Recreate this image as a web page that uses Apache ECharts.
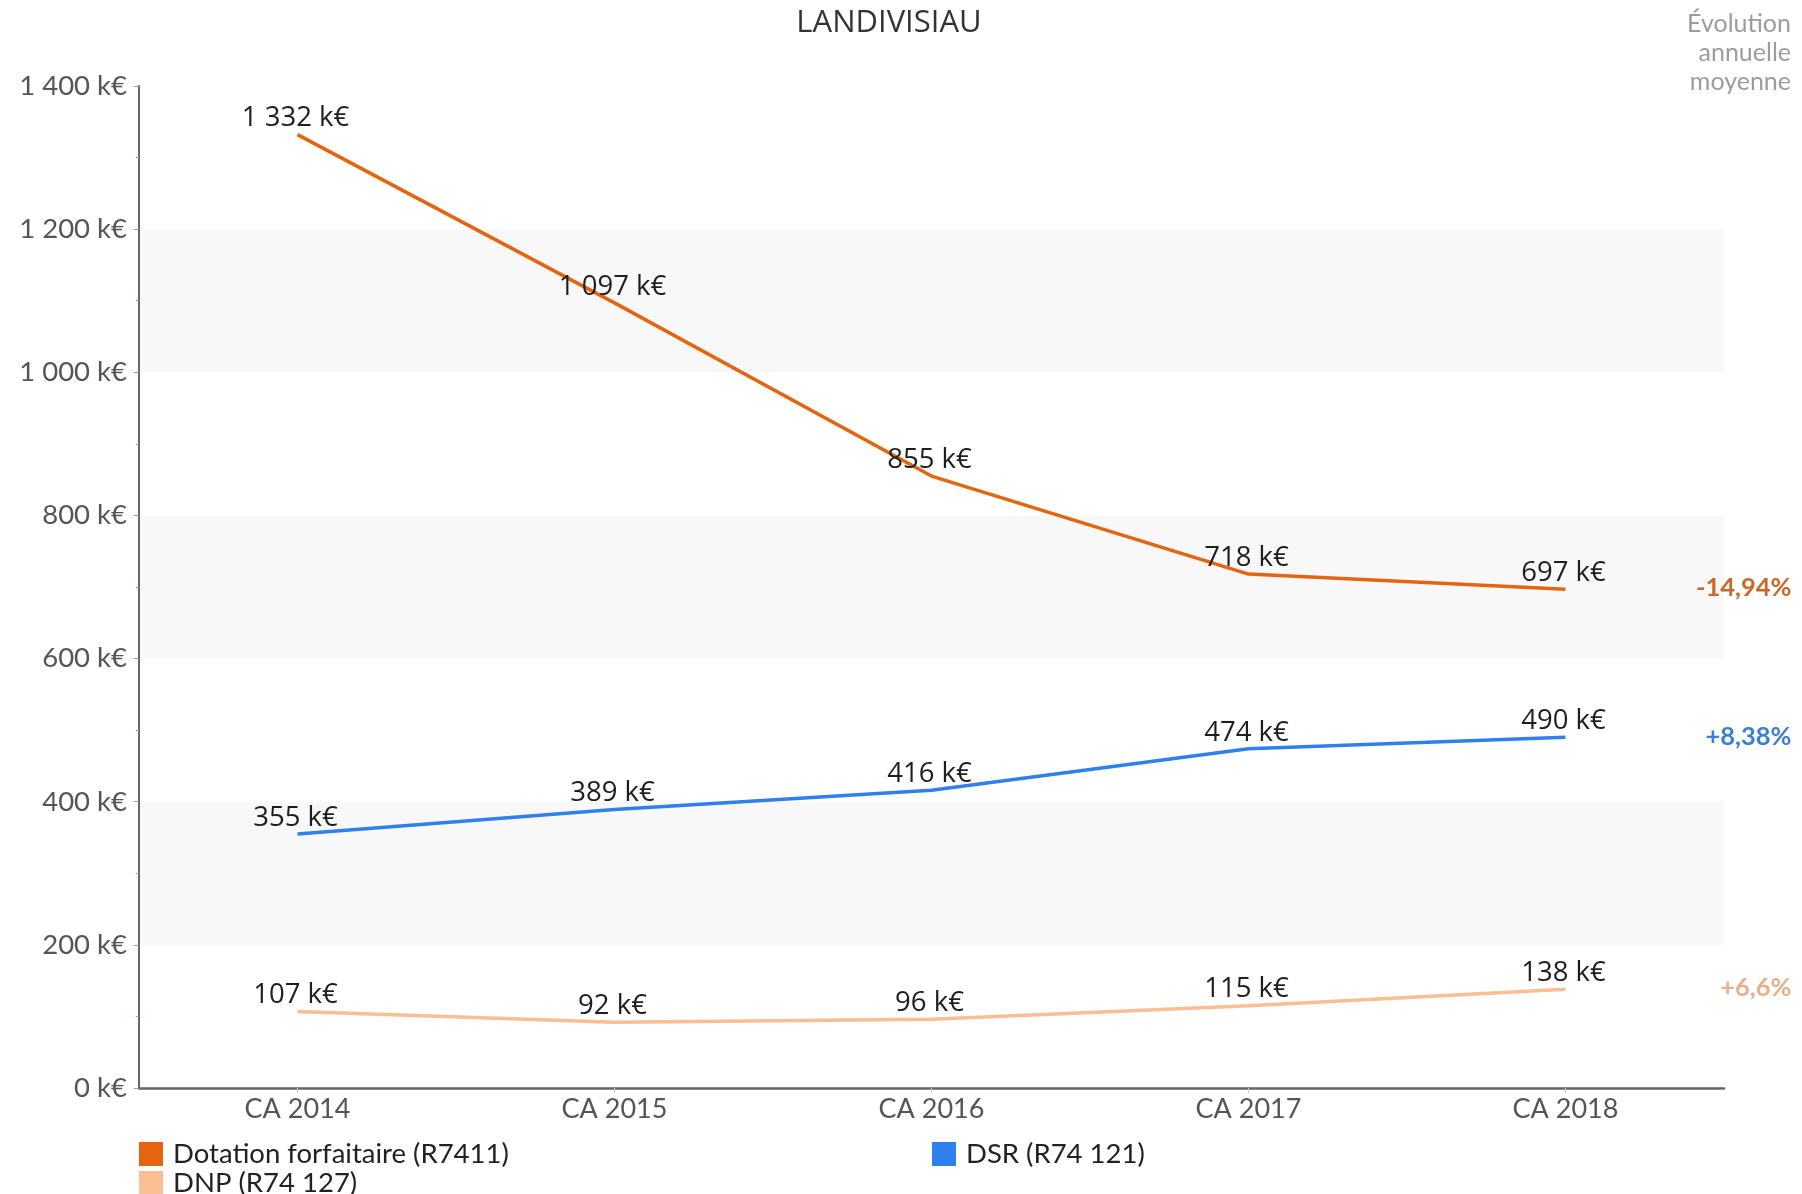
<!DOCTYPE html>
<html>
<head>
<meta charset="utf-8">
<script src="https://cdn.jsdelivr.net/npm/echarts@6/dist/echarts.min.js"></script>
<style>
html,body{margin:0;padding:0;background:#fff;}
#chart{width:1802px;height:1194px;}
</style>
</head>
<body>
<div id="chart"></div>
<script>
const categories = ['CA 2014', 'CA 2015', 'CA 2016', 'CA 2017', 'CA 2018'];
const dotation = [1332, 1097, 855, 718, 697];
const dsr = [355, 389, 416, 474, 490];
const dnp = [107, 92, 96, 115, 138];
const seriesNames = ['Dotation forfaitaire (R7411)', 'DSR (R74 121)', 'DNP (R74 127)'];
const evolution = ['-14,94%', '+8,38%', '+6,6%'];
const yMin = 0, yMax = 1400, yInterval = 200;

const colors = ['#e4640f', '#2f7fec', '#fbbd92'];
const evoColors = ['#c8682a', '#3c7fd6', '#e6b08c'];

function fmt(v) {
  return String(v).replace(/\B(?=(\d{3})+(?!\d))/g, ' ') + ' k€';
}

const labelFont = "'Open Sans', sans-serif";
const axisFont = "Lato, 'Open Sans', sans-serif";

function makeSeries(name, data, i) {
  return {
    name: name,
    type: 'line',
    data: data,
    color: colors[i],
    symbol: 'circle',
    symbolSize: 0.1,
    showSymbol: true,
    itemStyle: { color: colors[i] },
    lineStyle: { color: colors[i], width: 3.5 },
    label: {
      show: true,
      position: 'top',
      distance: 2,
      offset: [-2, 0],
      formatter: p => fmt(p.value),
      color: '#1e1e1e',
      fontFamily: labelFont,
      fontSize: 27.5
    },
    endLabel: {
      show: true,
      formatter: () => evolution[i],
      color: evoColors[i],
      fontFamily: axisFont,
      fontWeight: 'bold',
      fontSize: 25.5,
      align: 'right',
      offset: [218, -1]
    },
    emphasis: { disabled: true }
  };
}

const chart = echarts.init(document.getElementById('chart'), null, { renderer: 'canvas' });
const legendCommon = {
  icon: 'rect',
  itemWidth: 24,
  itemHeight: 24,
  itemGap: 10,
  textStyle: { color: '#222', fontFamily: axisFont, fontSize: 27.5, padding: [0, 0, 0, 5] },
  selectedMode: false
};
chart.setOption({
  animation: false,
  title: [{
    text: 'LANDIVISIAU',
    left: 884,
    top: 3,
    textAlign: 'center',
    textStyle: { color: '#333', fontFamily: labelFont, fontWeight: 'normal', fontSize: 31 }
  }, {
    text: 'Évolution\nannuelle\nmoyenne',
    left: 1786,
    top: 4,
    textAlign: 'right',
    textStyle: { color: '#9c9c9c', fontFamily: axisFont, fontWeight: 'normal', fontSize: 25, lineHeight: 29 }
  }],
  legend: [
    Object.assign({ data: [seriesNames[0]], left: 134, top: 1135 }, legendCommon),
    Object.assign({ data: [seriesNames[1]], left: 927, top: 1135 }, legendCommon),
    Object.assign({ data: [seriesNames[2]], left: 134, top: 1164 }, legendCommon)
  ],
  grid: { left: 139, right: 78, top: 86, bottom: 106, containLabel: false },
  xAxis: {
    type: 'category',
    data: categories,
    boundaryGap: true,
    axisLine: { lineStyle: { color: '#666', width: 2.5 } },
    axisTick: { show: true, alignWithLabel: true, length: 5, lineStyle: { color: '#ccc' } },
    axisLabel: { color: '#555', fontFamily: axisFont, fontSize: 27, margin: 8 },
    splitLine: { show: false }
  },
  yAxis: {
    type: 'value',
    min: yMin,
    max: yMax,
    interval: yInterval,
    axisLine: { show: true, lineStyle: { color: '#666', width: 2 } },
    axisTick: { show: true, length: 5, lineStyle: { color: '#999' } },
    minorTick: { show: true, splitNumber: 2, length: 3, lineStyle: { color: '#f08080' } },
    axisLabel: { color: '#555', fontFamily: axisFont, fontSize: 27.5, margin: 12, formatter: v => fmt(v) },
    splitLine: { show: false },
    splitArea: { show: true, areaStyle: { color: ['#ffffff', '#f8f8f8'] } }
  },
  series: [
    makeSeries(seriesNames[0], dotation, 0),
    makeSeries(seriesNames[1], dsr, 1),
    makeSeries(seriesNames[2], dnp, 2)
  ]
});
</script>
</body>
</html>
